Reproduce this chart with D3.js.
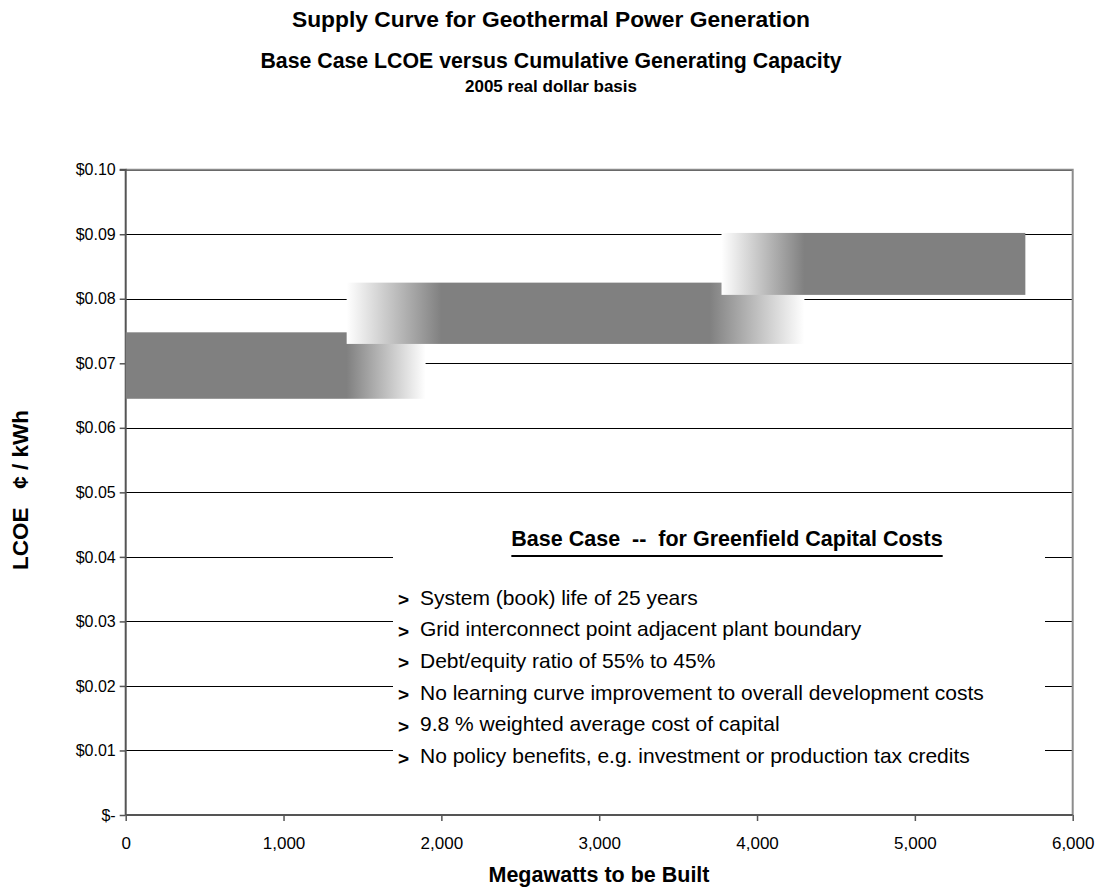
<!DOCTYPE html>
<html>
<head>
<meta charset="utf-8">
<script src="https://cdn.jsdelivr.net/npm/d3@7"></script>
<style>
  html, body { margin: 0; padding: 0; background: #fff; }
  svg { display: block; font-family: "Liberation Sans", Arial, sans-serif; }
  text { white-space: pre; }
</style>
</head>
<body>
<svg id="chart" width="1103" height="894"></svg>
<script>
// Supply tiers: capacity span (MW), fade spans (MW) and LCOE band ($/kWh)
const tierNames   = ["Tier 1", "Tier 2", "Tier 3"];
const tierStart   = [0,      1400,   3775];
const tierSolidA  = [0,      2000,   4300];   // fade-in ends here
const tierSolidB  = [1400,   3700,   5700];   // fade-out starts here
const tierEnd     = [1900,   4300,   5700];
const tierLow     = [0.0645, 0.0730, 0.0806];
const tierHigh    = [0.0748, 0.0825, 0.0902];

const yTicks = [0, 0.01, 0.02, 0.03, 0.04, 0.05, 0.06, 0.07, 0.08, 0.09, 0.10];
const xTicks = [0, 1000, 2000, 3000, 4000, 5000, 6000];

const noteTitle = "Base Case  --  for Greenfield Capital Costs";
const noteLines = [
  "System (book) life of 25 years",
  "Grid interconnect point adjacent plant boundary",
  "Debt/equity ratio of 55% to 45%",
  "No learning curve improvement to overall development costs",
  "9.8 % weighted average cost of capital",
  "No policy benefits, e.g. investment or production tax credits"
];

const W = 1103, H = 894;
const plot = { left: 125.7, right: 1072.7, top: 169.7, bottom: 815 };

const svg = d3.select("#chart");
const x = d3.scaleLinear().domain([0, 6000]).range([plot.left, plot.right]);
const y = d3.scaleLinear().domain([0, 0.10]).range([plot.bottom, plot.top]);

// Titles
const titles = [
  { t: "Supply Curve for Geothermal Power Generation", y: 21, s: 22.8 },
  { t: "Base Case LCOE versus Cumulative Generating Capacity", y: 62, s: 21.3 },
  { t: "2005 real dollar basis", y: 88, s: 17 }
];
svg.selectAll("text.title").data(titles).join("text")
  .attr("class", "title")
  .attr("x", 551).attr("y", d => d.y)
  .attr("text-anchor", "middle").attr("dominant-baseline", "middle")
  .attr("font-weight", "bold").attr("font-size", d => d.s)
  .attr("fill", "#000").text(d => d.t);

// Horizontal gridlines
svg.append("g").selectAll("line").data(yTicks.filter(v => v > 0)).join("line")
  .attr("x1", plot.left).attr("x2", plot.right)
  .attr("y1", d => Math.round(y(d)) + 0.5).attr("y2", d => Math.round(y(d)) + 0.5)
  .attr("stroke", "#000").attr("stroke-width", 1);

// Plot frame on the top and right
svg.append("path")
  .attr("d", `M${plot.left},${plot.top}H${plot.right}V${plot.bottom}`)
  .attr("fill", "none").attr("stroke", "#8c8c8c").attr("stroke-width", 2);

// Axes
const yAxis = d3.axisLeft(y).tickValues(yTicks).tickSize(6).tickPadding(4)
  .tickFormat(d => d === 0 ? "$-" : "$" + d.toFixed(2));
const xAxis = d3.axisBottom(x).tickValues(xTicks).tickSize(6).tickPadding(16)
  .tickFormat(d3.format(","));

const gy = svg.append("g").attr("transform", `translate(${plot.left},0)`).call(yAxis);
const gx = svg.append("g").attr("transform", `translate(0,${plot.bottom})`).call(xAxis);
[gy, gx].forEach(g => {
  g.select(".domain").attr("stroke", "#555").attr("stroke-width", 2);
  g.selectAll(".tick line").attr("stroke", "#555").attr("stroke-width", 1.5);
  g.selectAll(".tick text").attr("fill", "#000")
    .attr("font-family", "Liberation Sans, Arial, sans-serif");
});
gy.selectAll(".tick text").attr("font-size", 16);
gx.selectAll(".tick text").attr("font-size", 17);
gy.select(".domain").attr("d", `M-6,${plot.top}H0V${plot.bottom}`);
gx.select(".domain").attr("d", `M${plot.left},0H${plot.right}`);

// Gradients for the tier fades
const defs = svg.append("defs");
const tiers = tierNames.map((n, i) => ({
  name: n, start: tierStart[i], a: tierSolidA[i], b: tierSolidB[i], end: tierEnd[i],
  low: tierLow[i], high: tierHigh[i]
}));
const GRAY = "#808080";
tiers.forEach((d, i) => {
  const g = defs.append("linearGradient").attr("id", "fade" + i)
    .attr("gradientUnits", "userSpaceOnUse")
    .attr("x1", x(d.start)).attr("x2", x(d.end)).attr("y1", 0).attr("y2", 0);
  const span = d.end - d.start;
  const stops = [];
  stops.push([0, d.a > d.start ? "#fff" : GRAY]);
  stops.push([(d.a - d.start) / span, GRAY]);
  stops.push([(d.b - d.start) / span, GRAY]);
  stops.push([1, d.end > d.b ? "#fff" : GRAY]);
  g.selectAll("stop").data(stops).join("stop")
    .attr("offset", s => s[0]).attr("stop-color", s => s[1]);
});

// Tier bands
svg.append("g").selectAll("rect").data(tiers).join("rect")
  .attr("x", d => x(d.start))
  .attr("width", d => x(d.end) - x(d.start))
  .attr("y", d => y(d.high))
  .attr("height", d => y(d.low) - y(d.high))
  .attr("fill", (d, i) => `url(#fade${i})`);

// Assumptions note
const note = svg.append("g");
note.append("rect").attr("x", 393).attr("y", 515).attr("width", 652).attr("height", 255)
  .attr("fill", "#fff");
const tt = note.append("text").attr("x", 727).attr("y", 540)
  .attr("text-anchor", "middle").attr("dominant-baseline", "middle")
  .attr("font-weight", "bold").attr("font-size", 21.5).attr("fill", "#000")
  .text(noteTitle);
const bb = tt.node().getBBox();
note.append("line").attr("x1", bb.x).attr("x2", bb.x + bb.width)
  .attr("y1", 556).attr("y2", 556).attr("stroke", "#000").attr("stroke-width", 2);

const rows = note.selectAll("g.row").data(noteLines).join("g")
  .attr("class", "row")
  .attr("transform", (d, i) => `translate(0,${599 + i * 31.7})`);
rows.append("text").attr("x", 398).attr("y", 2)
  .attr("dominant-baseline", "middle").attr("font-weight", "bold")
  .attr("font-size", 19).text(">");
rows.append("text").attr("x", 420).attr("y", 0)
  .attr("dominant-baseline", "middle").attr("font-size", 21)
  .attr("fill", "#000").text(d => d);

// Axis titles
svg.append("text")
  .attr("transform", `translate(22,490) rotate(-90)`)
  .attr("text-anchor", "middle").attr("dominant-baseline", "middle")
  .attr("font-weight", "bold").attr("font-size", 22.5)
  .text("LCOE   \u00A2 / kWh");
svg.append("text")
  .attr("x", 599).attr("y", 876)
  .attr("text-anchor", "middle").attr("dominant-baseline", "middle")
  .attr("font-weight", "bold").attr("font-size", 21.5)
  .text("Megawatts to be Built");
</script>
</body>
</html>
